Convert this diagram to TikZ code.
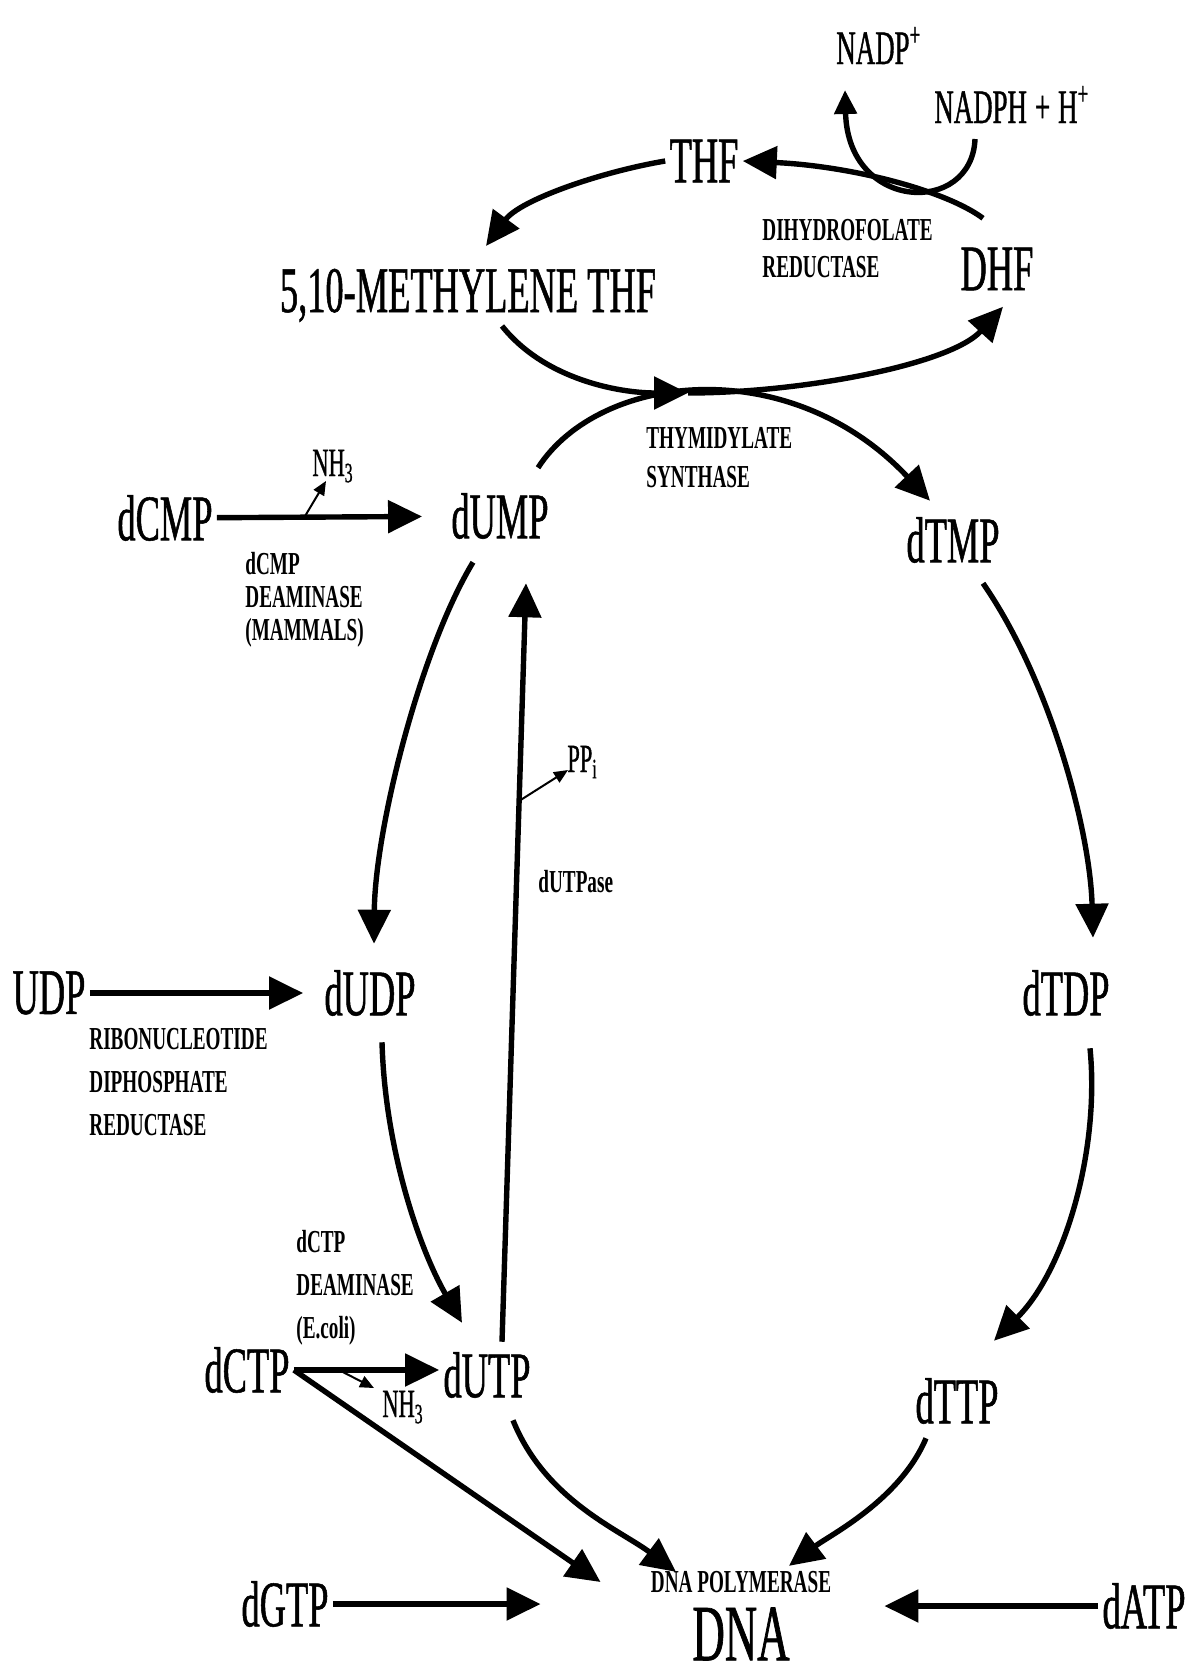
\documentclass[tikz,border=0pt]{standalone}
\usepackage{fontspec}
\setmainfont{Liberation Serif}[FakeStretch=0.56,FakeBold=0.8]
\newfontfamily\enzfont{Liberation Serif}[FakeStretch=0.6]
\usetikzlibrary{arrows.meta,calc}
\tikzset{
    >={Triangle[length=17pt,width=16pt]},
    met/.style={inner sep=2pt,font=\fontsize{32.5}{36}\selectfont},
    cof/.style={inner sep=2pt,font=\fontsize{24}{28}\selectfont},
    bypr/.style={inner sep=0pt,font=\fontsize{20}{22}\selectfont},
    enz/.style={inner sep=0pt,anchor=west,align=left,font=\enzfont\bfseries\fontsize{16}{21.5}\selectfont},
    flow/.style={->,line width=2.7pt},
    side/.style={-{Triangle[length=7pt,width=6pt]},line width=1pt}
}

\begin{document}
\begin{tikzpicture}[x=0.5pt,y=-0.5pt]
    \useasboundingbox (0,0) rectangle (1193,1676);

    % Folate cycle
    \node[cof,anchor=base west] (nadp) at (832,64) {NADP\textsuperscript{+}};
    \node[cof,anchor=base west] (nadph) at (930,123) {NADPH\,+\,H\textsuperscript{+}};
    \node[met] (thf) at (704,161) {THF};
    \node[met] (dhf) at (997,269) {DHF};
    \node[met,anchor=base] (meth) at (468,312) {5,10-METHYLENE THF};
    \node[enz] (dhfr) at (762,249) {DIHYDROFOLATE\\[-3pt]REDUCTASE};
    \coordinate (ts) at (688,393);

    \draw[flow] ($(dhf.north)+(-14,-25)$) .. controls (945,190) and (850,166) .. (thf.east);
    \draw[flow] (thf.west) .. controls (600,172) and (520,200) .. ($(meth.base)+(18,-66)$);
    \draw[flow] ($(meth.base)+(34,14)$) .. controls (545,380) and (620,393) .. (ts);
    \draw[flow] (ts) .. controls (800,393) and (950,365) .. ($(dhf.south)+(6,12)$);
    \draw[flow,-{Triangle[length=12pt,width=11pt]}] ($(nadph.base west)+(45,16)$) .. controls (972,216) and (848,212) .. ($(nadp.base west)+(13,26)$);

    % Deoxynucleotides
    \node[met] (dcmp) at (165,518) {dCMP};
    \node[met] (dump) at (500,516) {dUMP};
    \node[met] (dtmp) at (953,540) {dTMP};
    \node[met] (udp) at (49,993) {UDP};
    \node[met] (dudp) at (370,993) {dUDP};
    \node[met] (dtdp) at (1066,993) {dTDP};
    \node[met] (dctp) at (247,1370) {dCTP};
    \node[met] (dutp) at (487,1375) {dUTP};
    \node[met] (dttp) at (957,1401) {dTTP};
    \node[met] (dgtp) at (285,1604) {dGTP};
    \node[met] (datp) at (1144,1606) {dATP};
    \node[enz,anchor=center] (pol) at (741,1582) {DNA POLYMERASE};
    \node[inner sep=0pt,font=\fontsize{40}{44}\selectfont] (dna) at (741,1634) {DNA};

    % Enzyme labels
    \node[enz] (tsyn) at (646,458) {THYMIDYLATE\\[-2pt]SYNTHASE};
    \node[enz,font=\enzfont\bfseries\fontsize{16}{16.5}\selectfont] (dcmpd) at (245,600) {dCMP\\DEAMINASE\\(MAMMALS)};
    \node[enz] (rdr) at (89,1082) {RIBONUCLEOTIDE\\DIPHOSPHATE\\REDUCTASE};
    \node[enz] (dctpd) at (296,1288) {dCTP\\DEAMINASE\\(E.coli)};
    \node[enz] (dutpase) at (538,882) {dUTPase};

    % By-products
    \node[bypr,anchor=base west] (nh3a) at (312,476) {NH\textsubscript{3}};
    \node[bypr,anchor=base west] (ppi) at (567,772) {PP\textsubscript{i}};
    \node[bypr,anchor=base west] (nh3b) at (382,1417) {NH\textsubscript{3}};

    % Reactions
    \draw[flow] ($(dump.north)+(38,-21)$) .. controls (600,372) and (790,352) .. ($(dtmp.north)+(-23,-12)$);
    \draw[flow,shorten >=12.5pt] (dcmp) -- coordinate[pos=0.38] (nhup) (dump);
    \draw[side] (nhup) -- ($(nh3a.base west)+(14,5)$);
    \draw[flow,shorten >=8.5pt] (udp) -- (dudp);
    \draw[flow] ($(dump.south)+(-27,19)$) .. controls (420,650) and (375,830) .. ($(dudp.north)+(4,-22)$);
    \draw[flow] ($(dutp.north)+(15,-6)$) -- coordinate[pos=0.713] (ppfork) ($(dump.south)+(26,40)$);
    \draw[side] (ppfork) -- ($(ppi.base west)+(1,-2)$);
    \draw[flow] ($(dudp.south)+(12,22)$) .. controls (385,1150) and (420,1250) .. ($(dutp.north)+(-25,-25)$);
    \draw[flow] ($(dtmp.south)+(30,16)$) .. controls (1050,680) and (1090,830) .. ($(dtdp.north)+(27,-28)$);
    \draw[flow] ($(dtdp.south)+(24,28)$) .. controls (1100,1150) and (1065,1270) .. ($(dttp.north)+(37,-33)$);
    \draw[flow] (dctp.east) -- coordinate[pos=0.31] (nhlow) (dctp.east -| dutp.west);
    \draw[side] (nhlow) -- ($(nh3b.base west)+(-8,-29)$);

    % Into DNA
    \draw[flow] (dctp.east) -- ($(pol.west)+(-50,0)$);
    \draw[flow,shorten >=55pt] (dgtp) -- (dgtp -| pol.west);
    \draw[flow,shorten >=26.5pt] (datp) -- (datp -| pol.east);
    \draw[flow] ($(dutp.south)+(26,18)$) .. controls (545,1500) and (620,1530) .. ($(pol.north)+(-65,1)$);
    \draw[flow] ($(dttp.south)+(-31,10)$) .. controls (900,1500) and (830,1535) .. ($(pol.north)+(48,-5)$);
\end{tikzpicture}
\end{document}
